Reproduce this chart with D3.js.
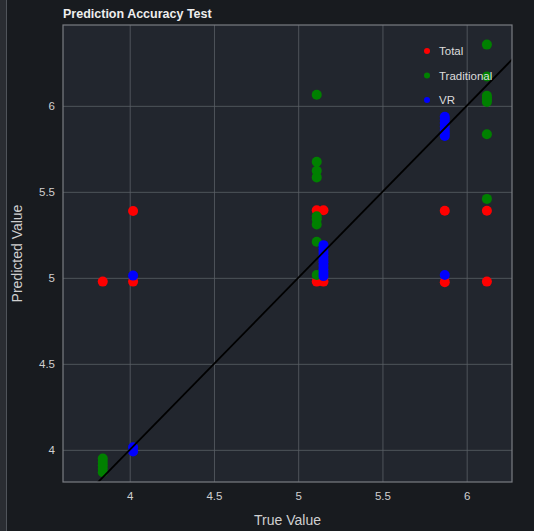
<!DOCTYPE html>
<html><head><meta charset="utf-8">
<script src="https://cdn.jsdelivr.net/npm/d3@7"></script>
<style>
html,body{margin:0;padding:0;background:#181b1f;}
svg{display:block;}
text{font-family:"Liberation Sans",Arial,sans-serif;}
</style></head>
<body>
<svg id="c" width="534" height="531"></svg>
<script>
const seriesNames = ["Total","Traditional","VR"];
const seriesColors = ["#ff0000","#008000","#0000ff"];
const xTicks = [4,4.5,5,5.5,6];
const yTicks = [4,4.5,5,5.5,6];

const totalTrue = [3.84,4.02,4.02,5.11,5.15,5.11,5.15,5.87,5.87,6.12,6.12];
const totalPred = [4.978,4.978,5.389,5.393,5.393,4.978,4.978,5.39,4.975,5.39,4.978];

const tradTrue = [3.84,3.84,3.84,3.84,3.84,
  5.11,5.11,5.11,5.11,5.11,5.11,5.11,5.11,5.11,
  6.12,6.12,6.12,6.12,6.12,6.12,6.12,6.12];
const tradPred = [3.95,3.93,3.91,3.89,3.87,
  6.064,5.675,5.622,5.584,5.358,5.31,5.21,5.017,5.34,
  6.356,6.171,6.058,6.045,6.035,6.023,5.835,5.459];

const vrTrue = [4.02,4.02,4.02,
  5.15,5.15,5.15,5.15,5.15,5.15,5.15,5.15,5.15,5.15,
  5.87,5.87,5.87,5.87,5.87,5.87,5.87,5.87];
const vrPred = [5.013,4.015,3.99,
  5.19,5.17,5.15,5.13,5.11,5.09,5.07,5.05,5.03,5.01,
  5.936,5.92,5.9,5.88,5.86,5.84,5.825,5.017];

const svg = d3.select("#c");
const W = 534, H = 531;
const m = {l:63, r:22, t:25, b:49};
const pw = W - m.l - m.r, ph = H - m.t - m.b;

// left strip
svg.append("rect").attr("x",0).attr("y",0).attr("width",6).attr("height",H).attr("fill","#2a2d32");
svg.append("line").attr("x1",6.5).attr("x2",6.5).attr("y1",0).attr("y2",H).attr("stroke","#50545a").attr("stroke-width",1);

const x = d3.scaleLinear().domain([3.604,6.269]).range([m.l, m.l+pw]);
const y = d3.scaleLinear().domain([3.813,6.47]).range([m.t+ph, m.t]);

svg.append("rect").attr("x",m.l).attr("y",m.t).attr("width",pw).attr("height",ph).attr("fill","#22262e");

svg.append("defs").append("clipPath").attr("id","clip")
  .append("rect").attr("x",m.l).attr("y",m.t).attr("width",pw).attr("height",ph);

// grid
const gx = svg.append("g").attr("transform",`translate(0,${m.t+ph})`)
  .call(d3.axisBottom(x).tickValues(xTicks).tickSize(-ph).tickFormat(d3.format("")));
const gy = svg.append("g").attr("transform",`translate(${m.l},0)`)
  .call(d3.axisLeft(y).tickValues(yTicks).tickSize(-pw).tickFormat(d3.format("")));
[gx,gy].forEach(g=>{
  g.select(".domain").remove();
  g.selectAll(".tick line").attr("stroke","#5a5f66").attr("stroke-width",0.8);
  g.selectAll(".tick text").attr("fill","#d0d0d0").attr("font-size","11.5px");
});
gx.selectAll(".tick text").attr("dy","1.3em");
gy.selectAll(".tick text").attr("dx","-5px");

const pg = svg.append("g").attr("clip-path","url(#clip)");
const sets = [[totalTrue,totalPred],[tradTrue,tradPred],[vrTrue,vrPred]];
sets.forEach((s,i)=>{
  pg.selectAll(null).data(s[0]).enter().append("circle")
    .attr("cx",d=>x(d)).attr("cy",(d,j)=>y(s[1][j])).attr("r",5)
    .attr("fill",seriesColors[i]);
});

// identity line
pg.append("line").attr("x1",x(3.7)).attr("y1",y(3.7)).attr("x2",x(6.4)).attr("y2",y(6.4))
  .attr("stroke","#000").attr("stroke-width",1.8);

// border
svg.append("rect").attr("x",m.l).attr("y",m.t).attr("width",pw).attr("height",ph)
  .attr("fill","none").attr("stroke","#7a7d82").attr("stroke-width",1.2);

// legend
const lg = svg.append("g").attr("transform","translate(427,51)");
seriesNames.forEach((n,i)=>{
  const r = lg.append("g").attr("transform",`translate(0,${i*24.5})`);
  r.append("circle").attr("r",3).attr("fill",seriesColors[i]);
  r.append("text").attr("x",12).attr("y",4).attr("fill","#dcdcdc").attr("font-size","11.5px").text(n);
});

svg.append("text").attr("x",m.l).attr("y",18).attr("fill","#eeeeee").attr("font-size","12.5px")
  .attr("font-weight","bold").text("Prediction Accuracy Test");
svg.append("text").attr("x",m.l+pw/2).attr("y",525).attr("text-anchor","middle")
  .attr("fill","#d0d0d0").attr("font-size","14px").text("True Value");
svg.append("text").attr("transform",`translate(22,${m.t+ph/2}) rotate(-90)`).attr("text-anchor","middle")
  .attr("fill","#d0d0d0").attr("font-size","14px").text("Predicted Value");
</script>
</body></html>
